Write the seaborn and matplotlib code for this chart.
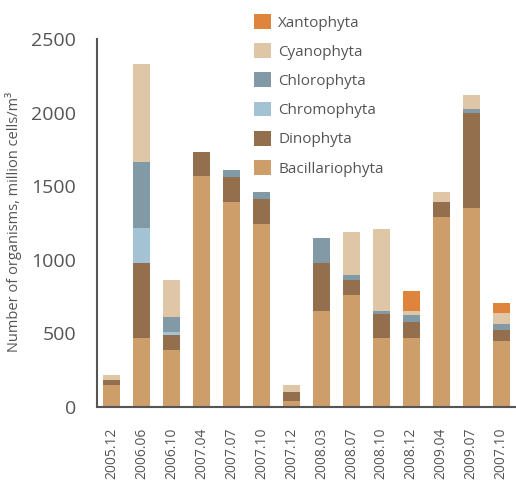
import numpy as np
import pandas as pd
import matplotlib
matplotlib.use('Agg')
import matplotlib.pyplot as plt
import seaborn as sns
from matplotlib.patches import Patch

# =============================================================================
# Data
# =============================================================================

dates = ['2005.12', '2006.06', '2006.10', '2007.04', '2007.07', '2007.10', '2007.12',
         '2008.03', '2008.07', '2008.10', '2008.12', '2009.04', '2009.07', '2007.10']

bacillariophyta = [150, 470, 390, 1570, 1395, 1240, 40, 655, 760, 470, 470, 1290, 1350, 450]
dinophyta       = [35, 505, 100, 165, 170, 175, 60, 320, 105, 165, 110, 105, 645, 75]
chromophyta     = [0, 240, 20, 0, 0, 0, 0, 0, 0, 0, 0, 0, 0, 0]
chlorophyta     = [0, 450, 100, 0, 47, 48, 0, 175, 35, 20, 48, 0, 27, 40]
cyanophyta      = [35, 665, 255, 0, 0, 0, 50, 0, 290, 555, 27, 68, 95, 75]
xantophyta      = [0, 0, 0, 0, 0, 0, 0, 0, 0, 0, 136, 0, 0, 67]

# stacking order, bottom to top
groups = ['Bacillariophyta', 'Dinophyta', 'Chromophyta', 'Chlorophyta', 'Cyanophyta', 'Xantophyta']
colors = ['#CD9D6A', '#936F4E', '#A3C2D3', '#8299A6', '#DFC6A6', '#DE843C']

df = pd.DataFrame({'slot': range(len(dates)),
                   'Bacillariophyta': bacillariophyta,
                   'Dinophyta': dinophyta,
                   'Chromophyta': chromophyta,
                   'Chlorophyta': chlorophyta,
                   'Cyanophyta': cyanophyta,
                   'Xantophyta': xantophyta})

# cumulative tops for the stacked bars
cum = df[groups].cumsum(axis=1)
cum['slot'] = df['slot']

# =============================================================================
# Plot
# =============================================================================

sns.set_style('white')
plt.rcParams['font.family'] = ['Open Sans', 'DejaVu Sans']
grey = '#555555'

fig = plt.figure(figsize=(5.16, 4.84), dpi=100)
ax = fig.add_axes([97/516, 77/484, 419/516, 368/484])

# draw from the top layer down so lower layers cover the upper ones
for g, c in reversed(list(zip(groups, colors))):
    sns.barplot(data=cum, x='slot', y=g, color=c, width=0.57, saturation=1,
                ax=ax, linewidth=0)

ax.set_xlim(-0.5, len(dates) - 0.5)
ax.set_ylim(0, 2500)
ax.set_yticks(np.arange(0, 2501, 500))
ax.tick_params(axis='y', labelsize=14, colors=grey, length=8, width=1.5, direction='out', pad=7)

# ticks between bars, labels under bars
ax.set_xticks(np.arange(-0.5, len(dates), 1))
ax.set_xticklabels([])
ax.set_xticks(np.arange(len(dates)), minor=True)
ax.set_xticklabels(dates, minor=True, rotation=90, fontsize=10, color=grey)
ax.tick_params(axis='x', which='major', length=7, width=1.5, colors=grey, direction='out')
ax.tick_params(axis='x', which='minor', length=0, pad=15)

ax.set_xlabel('')
ax.set_ylabel('Number of organisms, million cells/m³', fontsize=10.5, color=grey)
ax.yaxis.set_label_coords(-0.178, 0.503)

sns.despine(ax=ax)
for s in ['left', 'bottom']:
    ax.spines[s].set_color(grey)
    ax.spines[s].set_linewidth(1.5)

# legend, top entry first
handles = [Patch(facecolor=c, edgecolor='none') for c in colors][::-1]
leg = fig.legend(handles, groups[::-1], loc='upper left',
                 bbox_to_anchor=(254/516, 1 - 14/484), frameon=False,
                 fontsize=11, handlelength=1.1, handleheight=1.1,
                 handletextpad=0.5, labelspacing=0.83, borderpad=0, borderaxespad=0)
for t in leg.get_texts():
    t.set_color(grey)

plt.savefig('out.png', dpi=100)
